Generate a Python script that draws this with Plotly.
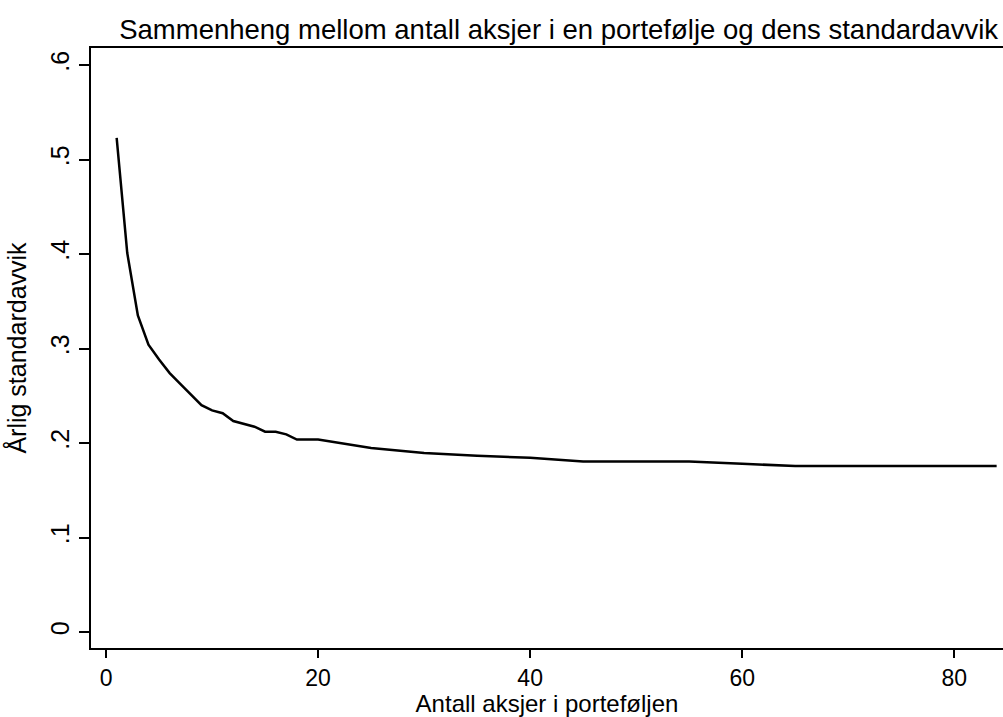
import plotly.graph_objects as go

n_stocks = [1, 2, 3, 4, 5, 6, 7, 8, 9, 10, 11, 12, 13, 14, 15, 16, 17, 18, 19, 20,
            25, 30, 35, 40, 45, 50, 55, 60, 65, 70, 75, 80, 84]
std_dev = [0.523, 0.401, 0.335, 0.304, 0.2885, 0.274, 0.2625, 0.2512, 0.240, 0.2345,
           0.2315, 0.2233, 0.2203, 0.2173, 0.212, 0.212, 0.2092, 0.2037, 0.2037, 0.2037,
           0.1947, 0.1894, 0.1866, 0.1843, 0.1805, 0.1805, 0.1805, 0.178, 0.1757,
           0.1757, 0.1757, 0.1757, 0.1757]
y_tickvals = [0, 0.1, 0.2, 0.3, 0.4, 0.5, 0.6]
y_ticktext = ["0", ".1", ".2", ".3", ".4", ".5", ".6"]
x_tickvals = [0, 20, 40, 60, 80]

title = "Sammenheng mellom antall aksjer i en portefølje og dens standardavvik"
xtitle = "Antall aksjer i porteføljen"
ytitle = "Årlig standardavvik"

font = "Liberation Sans"

fig = go.Figure()
fig.add_trace(go.Scatter(x=n_stocks, y=std_dev, mode="lines",
                         line=dict(color="black", width=2.5), showlegend=False))

fig.update_layout(
    width=1003, height=717,
    paper_bgcolor="white", plot_bgcolor="white",
    margin=dict(l=91, r=0, t=48, b=69),
    font=dict(family=font, color="black", size=24),
    title=dict(text=title, x=0.557, xanchor="center", xref="container",
               y=1 - 29 / 717, yanchor="middle", yref="container",
               font=dict(family=font, size=27.5, color="black")),
    xaxis=dict(range=[-1.42, 84.6], tickvals=x_tickvals, showgrid=False, zeroline=False,
               showline=True, linecolor="black", linewidth=2, mirror=True,
               ticks="outside", ticklen=8, tickwidth=2, tickcolor="black",
               tickfont=dict(size=23),
               title=dict(text=xtitle, standoff=4, font=dict(size=24))),
    yaxis=dict(range=[-0.0169, 0.618], tickvals=y_tickvals, ticktext=y_ticktext,
               showgrid=False, zeroline=False,
               showline=True, linecolor="black", linewidth=2,
               ticks="outside", ticklen=10, tickwidth=2, tickcolor="black",
               tickangle=-90, tickfont=dict(size=25),
               title=dict(text=ytitle, standoff=12, font=dict(size=25))),
)

fig.write_html("out.html")
